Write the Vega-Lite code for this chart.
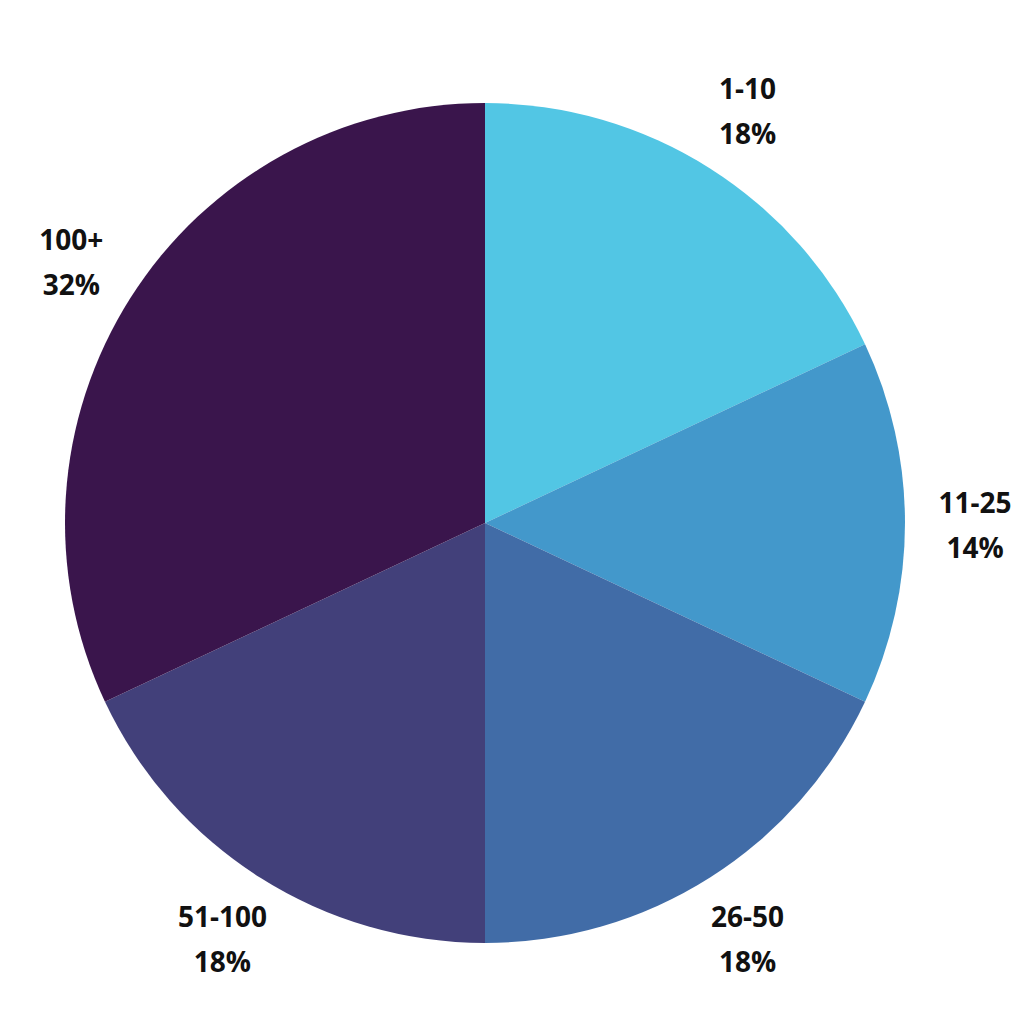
{
  "$schema": "https://vega.github.io/schema/vega-lite/v6.json",
  "width": 970,
  "height": 1000,
  "autosize": {"type": "none"},
  "padding": {"left": 0, "top": 23, "right": 54, "bottom": 1},
  "background": "white",
  "view": {"stroke": null},
  "data": {
    "values": [
      {"i": 1, "group": "1-10", "pct": 18, "label": "1-10\n18%"},
      {"i": 2, "group": "11-25", "pct": 14, "label": "11-25\n14%"},
      {"i": 3, "group": "26-50", "pct": 18, "label": "26-50\n18%"},
      {"i": 4, "group": "51-100", "pct": 18, "label": "51-100\n18%"},
      {"i": 5, "group": "100+", "pct": 32, "label": "100+\n32%"}
    ]
  },
  "encoding": {
    "theta": {"field": "pct", "type": "quantitative", "stack": true},
    "order": {"field": "i", "type": "quantitative"},
    "color": {
      "field": "group",
      "type": "nominal",
      "scale": {
        "domain": ["1-10", "11-25", "26-50", "51-100", "100+"],
        "range": ["#52C6E4", "#4398CB", "#416CA7", "#42407A", "#3A154C"]
      },
      "legend": null
    }
  },
  "layer": [
    {"mark": {"type": "arc", "outerRadius": 420, "stroke": null}},
    {
      "mark": {
        "type": "text",
        "radius": 490,
        "dy": -18,
        "lineBreak": "\n",
        "lineHeight": 45,
        "font": "Open Sans",
        "fontWeight": 700,
        "fontSize": 28,
        "align": "center",
        "baseline": "middle",
        "color": "#111111"
      },
      "encoding": {
        "text": {"field": "label", "type": "nominal"},
        "color": {"value": "#111111"}
      }
    }
  ]
}
